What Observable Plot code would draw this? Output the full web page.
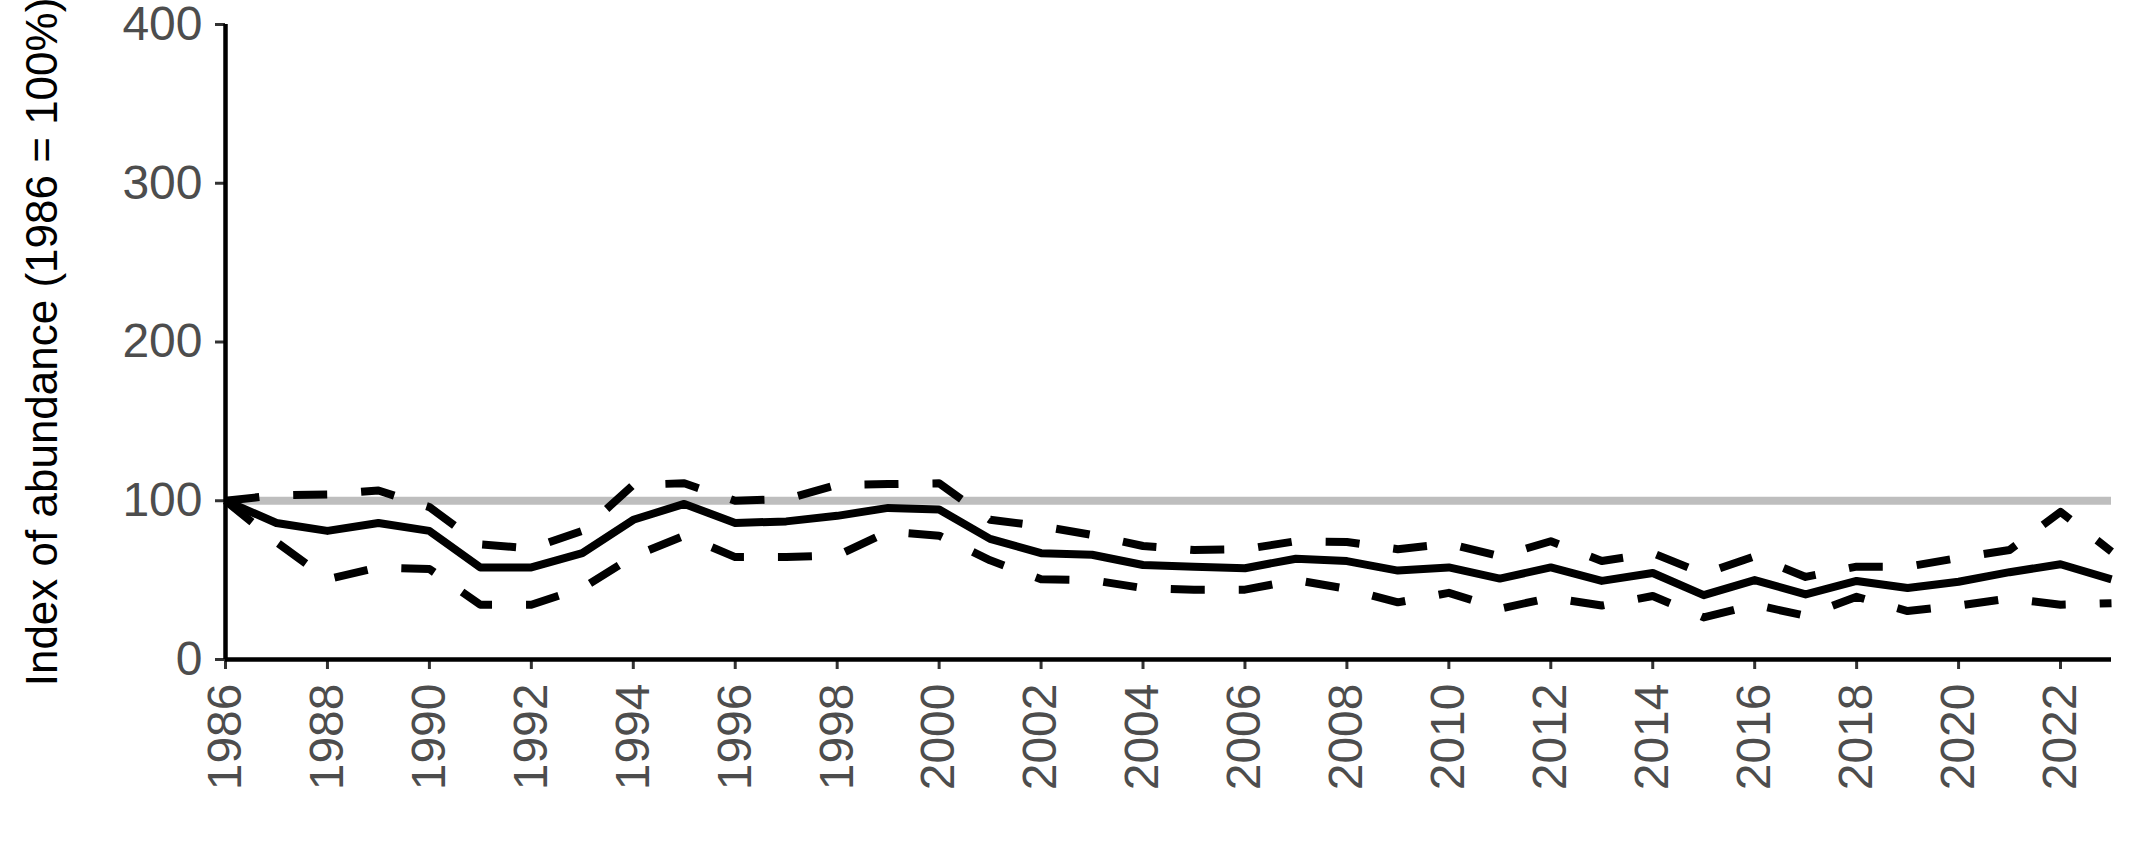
<!DOCTYPE html>
<html>
<head>
<meta charset="utf-8">
<script src="https://cdn.jsdelivr.net/npm/d3@7"></script>
<script src="https://cdn.jsdelivr.net/npm/@observablehq/plot@0.6"></script>
<style>
  html, body { margin: 0; padding: 0; background: #ffffff; }
  #chart svg { display: block; font-family: "Liberation Sans", Arial, sans-serif; }
</style>
</head>
<body>
<div id="chart"></div>
<script>
const years = [1986,1987,1988,1989,1990,1991,1992,1993,1994,1995,1996,1997,1998,1999,2000,2001,2002,2003,2004,2005,2006,2007,2008,2009,2010,2011,2012,2013,2014,2015,2016,2017,2018,2019,2020,2021,2022,2023];
const indexValues = [100,86,81,86,81,58,58,67,88,98,86,87,90.5,95.5,94.5,76,67,66,59.5,58.5,57.5,63.5,62,56,58,51,58,49.5,54.5,40.5,50,41,49.5,45,49,55,60,50.5];
const upperValues = [100,103.5,104,106.5,96,72.5,70,81,110,111,100,101,110,110.5,111,88,84,78.5,71.5,69,69.5,74.5,74,69.5,73,65,74.5,62,67,54,65,52,58.5,58.5,64,69,93,68];
const lowerValues = [100,74,50.5,58,57,34.5,34.5,45,65,78,64.5,64.5,65.5,80.5,78,62.5,50.5,50,45,44,44,50,44.5,36,42,32,39,34,40,26.5,34.5,27.5,39.5,30.5,34,38.5,34.5,35.5];
const xTicks = [1986,1988,1990,1992,1994,1996,1998,2000,2002,2004,2006,2008,2010,2012,2014,2016,2018,2020,2022];
const yTicks = [0,100,200,300,400];
const baseline = [100];
const yTitle = "Index of abundance (1986 = 100%)";

const rows = years.map((year, i) => ({year, index: indexValues[i], upper: upperValues[i], lower: lowerValues[i]}));

const chart = Plot.plot({
  width: 2136,
  height: 866,
  marginLeft: 225,
  marginRight: 25,
  marginTop: 24,
  marginBottom: 207,
  style: {background: "#ffffff", fontFamily: "Liberation Sans, Arial, sans-serif"},
  x: {type: "linear", domain: [1986, 2023]},
  y: {type: "linear", domain: [0, 400]},
  marks: [
    Plot.ruleY(baseline, {x1: 1986, x2: 2023, stroke: "#bebebe", strokeWidth: 8}),
    Plot.line(rows, {x: "year", y: "upper", stroke: "#000000", strokeWidth: 8, strokeDasharray: "34,34", strokeLinejoin: "round", strokeLinecap: "butt"}),
    Plot.line(rows, {x: "year", y: "lower", stroke: "#000000", strokeWidth: 8, strokeDasharray: "34,34", strokeLinejoin: "round", strokeLinecap: "butt"}),
    Plot.line(rows, {x: "year", y: "index", stroke: "#000000", strokeWidth: 8, strokeLinejoin: "round", strokeLinecap: "butt"}),
    Plot.axisY({ticks: yTicks, tickSize: 10, tickPadding: 13, fontSize: 48, fill: "#4d4d4d", stroke: "#333333", strokeWidth: 3, label: null}),
    Plot.axisX({ticks: xTicks, tickFormat: d => String(d), tickRotate: -90, tickSize: 10, tickPadding: 14, fontSize: 48, fill: "#4d4d4d", stroke: "#333333", strokeWidth: 3, label: null}),
    Plot.ruleX([1986], {y1: 0, y2: 400, stroke: "#000000", strokeWidth: 4.5}),
    Plot.ruleY([0], {x1: 1986, x2: 2023, stroke: "#000000", strokeWidth: 4.5}),
    Plot.text([yTitle], {frameAnchor: "left", rotate: -90, dx: -183, fontSize: 44, fill: "#000000", textAnchor: "middle"})
  ]
});
document.getElementById("chart").appendChild(chart);
</script>
</body>
</html>
